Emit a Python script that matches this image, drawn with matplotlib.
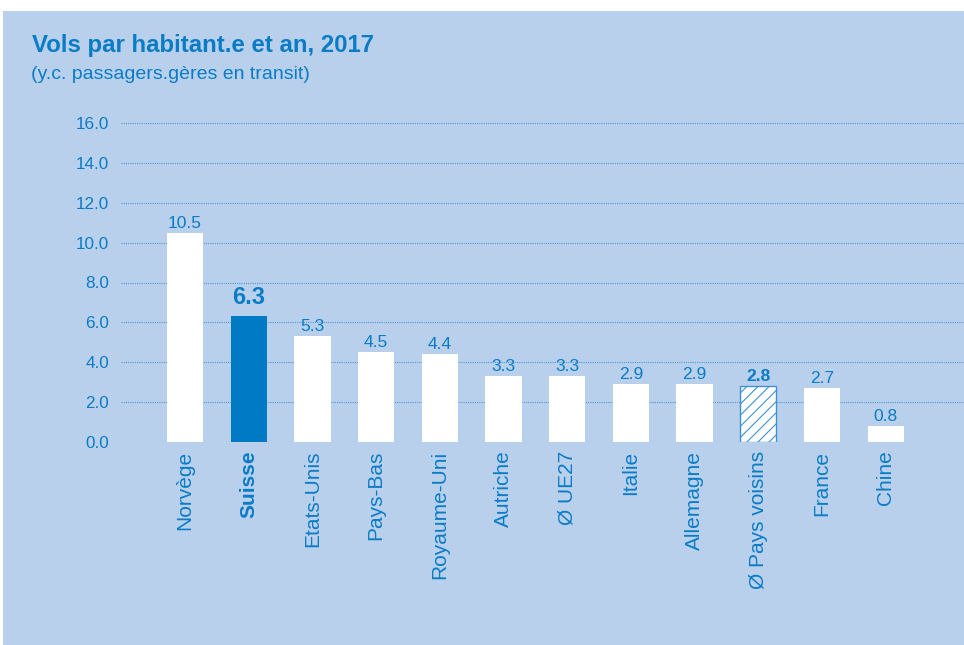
import matplotlib
matplotlib.use("Agg")
import matplotlib.pyplot as plt
from matplotlib.patches import Rectangle

categories = ["Norvège", "Suisse", "Etats-Unis", "Pays-Bas", "Royaume-Uni", "Autriche",
              "Ø UE27", "Italie", "Allemagne", "Ø Pays voisins", "France", "Chine"]
values = [10.5, 6.3, 5.3, 4.5, 4.4, 3.3, 3.3, 2.9, 2.9, 2.8, 2.7, 0.8]
yticks = [0, 2, 4, 6, 8, 10, 12, 14, 16]
title = "Vols par habitant.e et an, 2017"
subtitle = "(y.c. passagers.gères en transit)"

BG = "#b9d0ec"
BLUE = "#0a7cc6"
BAR_HI = "#007ac4"
GRID = "#4a98d8"
FONT = "Liberation Sans"

plt.rcParams['font.family'] = [FONT, 'DejaVu Sans']
plt.rcParams['hatch.linewidth'] = 0.8

fig = plt.figure(figsize=(9.64, 6.45), dpi=100, facecolor="white")
fig.patches.append(Rectangle((3/964, 0), 1 - 3/964, 1 - 11/645, transform=fig.transFigure,
                             facecolor=BG, edgecolor="none", zorder=-10))

ax = fig.add_axes([121/964, 1 - 441.7/645, 1 - 121/964, (441.7 - 123.3)/645])
ax.set_facecolor("none")

x = list(range(len(categories)))
highlight = 1
hatched = 9
for i, (xi, v) in enumerate(zip(x, values)):
    if i == highlight:
        ax.bar(xi, v, width=0.57, color=BAR_HI, zorder=3)
    elif i == hatched:
        ax.bar(xi, v, width=0.57, facecolor="white", edgecolor="#3d90d4", hatch="///",
               linewidth=1.0, zorder=3)
    else:
        ax.bar(xi, v, width=0.57, color="white", zorder=3)

for i, (xi, v) in enumerate(zip(x, values)):
    if i == highlight:
        ax.annotate(f"{v:.1f}", (xi, v), xytext=(0, 9), textcoords="offset points",
                    ha="center", va="baseline", color=BLUE, fontsize=17, fontweight="bold")
    elif i == hatched:
        ax.annotate(f"{v:.1f}", (xi, v), xytext=(0, 3.5), textcoords="offset points",
                    ha="center", va="baseline", color=BLUE, fontsize=12.5, fontweight="bold")
    else:
        ax.annotate(f"{v:.1f}", (xi, v), xytext=(0, 3.5), textcoords="offset points",
                    ha="center", va="baseline", color=BLUE, fontsize=12.5)

ax.set_ylim(0, 16)
ax.set_xlim(-1.005, 12.23)
ax.set_yticks(yticks)
ax.set_yticklabels([f"{t:.1f}" for t in yticks], fontsize=12.3, color=BLUE)
ax.set_xticks(x)
ax.set_xticklabels(categories, rotation=90, fontsize=15, color=BLUE, va="top")
for i, lab in enumerate(ax.get_xticklabels()):
    if i == highlight:
        lab.set_fontweight("bold")
ax.tick_params(axis="y", length=0, pad=8.5)
ax.tick_params(axis="x", length=0, pad=6.5)
ax.grid(axis="y", color=GRID, linestyle=(0, (1, 1)), linewidth=0.8, zorder=0)
ax.set_axisbelow(True)
for s in ax.spines.values():
    s.set_visible(False)

fig.text(32/964, 1 - 52/645, title, fontsize=17.3, fontweight="bold", color=BLUE,
         ha="left", va="baseline")
fig.text(31/964, 1 - 79/645, subtitle, fontsize=14, color=BLUE, ha="left", va="baseline")

fig.savefig("out.png", dpi=100, facecolor="white")
